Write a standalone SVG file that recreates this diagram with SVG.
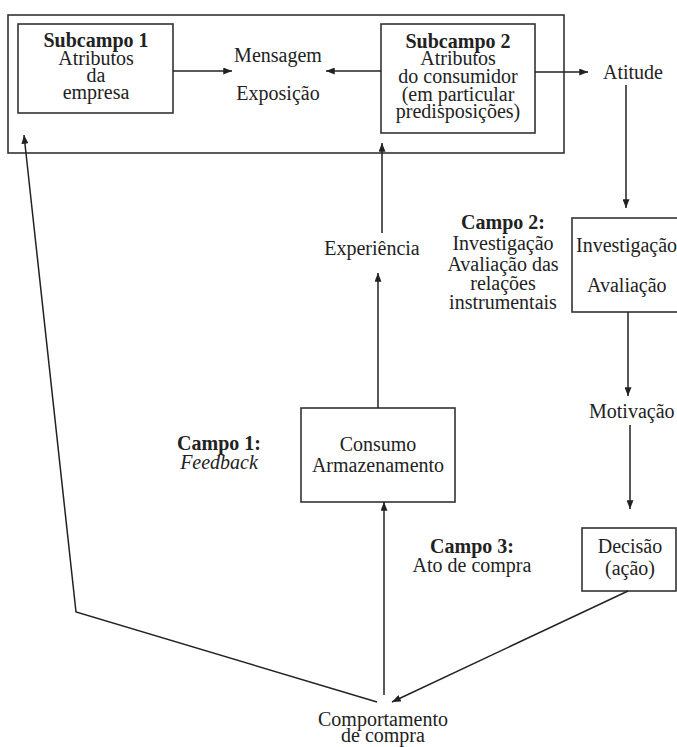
<svg xmlns="http://www.w3.org/2000/svg" width="677" height="747" viewBox="0 0 677 747">
<defs>
<marker id="ah" viewBox="0 0 10 8" refX="10" refY="4" markerWidth="9" markerHeight="7" markerUnits="userSpaceOnUse" orient="auto">
<path d="M0,0 L10,4 L0,8 z" fill="#222"/>
</marker>
</defs>
<style>
text{font-family:"Liberation Serif","Times New Roman",serif;font-size:20px;fill:#222}
.c{text-anchor:middle}
.b{font-weight:bold}
.i{font-style:italic}
rect{fill:none;stroke:#333;stroke-width:1.6}
.ln{fill:none;stroke:#222;stroke-width:1.5}
.ar{marker-end:url(#ah)}
</style>
<rect fill="#fff" width="677" height="747" style="fill:#fff;stroke:none"/>
<g id="outer"><rect x="8" y="15" width="556" height="138"/></g>
<g id="subcampo1">
<rect x="18" y="24" width="155" height="89"/>
<text class="c b" x="96" y="47">Subcampo 1</text>
<text class="c" x="96" y="65">Atributos</text>
<text class="c" x="96" y="82">da</text>
<text class="c" x="96" y="99">empresa</text>
</g>
<g id="mensagem">
<text class="c" x="278" y="62">Mensagem</text>
<text class="c" x="278" y="100">Exposição</text>
</g>
<g id="subcampo2">
<rect x="381" y="24" width="154" height="109"/>
<text class="c b" x="458" y="48">Subcampo 2</text>
<text class="c" x="458" y="65">Atributos</text>
<text class="c" x="458" y="83">do consumidor</text>
<text class="c" x="458" y="101">(em particular</text>
<text class="c" x="458" y="118">predisposições)</text>
</g>
<g id="atitude"><text x="603" y="79">Atitude</text></g>
<g id="experiencia"><text class="c" x="372" y="255">Experiência</text></g>
<g id="campo2">
<text class="c b" x="503" y="229">Campo 2:</text>
<text class="c" x="503" y="250">Investigação</text>
<text class="c" x="503" y="271">Avaliação das</text>
<text class="c" x="503" y="290">relações</text>
<text class="c" x="503" y="309">instrumentais</text>
</g>
<g id="investigacao">
<rect x="572" y="218" width="120" height="94"/>
<text x="576" y="252">Investigação</text>
<text x="587" y="292">Avaliação</text>
</g>
<g id="motivacao"><text x="589" y="418">Motivação</text></g>
<g id="campo1">
<text class="c b" x="219" y="450">Campo 1:</text>
<text class="c i" x="219" y="469">Feedback</text>
</g>
<g id="consumo">
<rect x="301" y="408" width="154" height="94"/>
<text class="c" x="378" y="451">Consumo</text>
<text class="c" x="378" y="472">Armazenamento</text>
</g>
<g id="campo3">
<text class="c b" x="472" y="553">Campo 3:</text>
<text class="c" x="472" y="572">Ato de compra</text>
</g>
<g id="decisao">
<rect x="582" y="528" width="94" height="63"/>
<text class="c" x="630" y="553">Decisão</text>
<text class="c" x="630" y="575">(ação)</text>
</g>
<g id="comportamento">
<text class="c" x="383" y="726">Comportamento</text>
<text class="c" x="383" y="742">de compra</text>
</g>
<g id="connectors">
<line class="ln ar" x1="173" y1="71" x2="232" y2="71"/>
<line class="ln ar" x1="381" y1="71" x2="326" y2="71"/>
<line class="ln ar" x1="535" y1="72" x2="588" y2="72"/>
<line class="ln ar" x1="626" y1="85" x2="626" y2="208"/>
<line class="ln ar" x1="628" y1="312" x2="628" y2="396"/>
<line class="ln ar" x1="630" y1="425" x2="630" y2="509"/>
<line class="ln ar" x1="628" y1="591" x2="392" y2="702"/>
<line class="ln ar" x1="384" y1="695" x2="384" y2="502"/>
<line class="ln ar" x1="378" y1="408" x2="378" y2="273"/>
<line class="ln ar" x1="382" y1="233" x2="382" y2="143"/>
<polyline class="ln ar" points="377,702 76,612 24,135"/>
</g>
</svg>
